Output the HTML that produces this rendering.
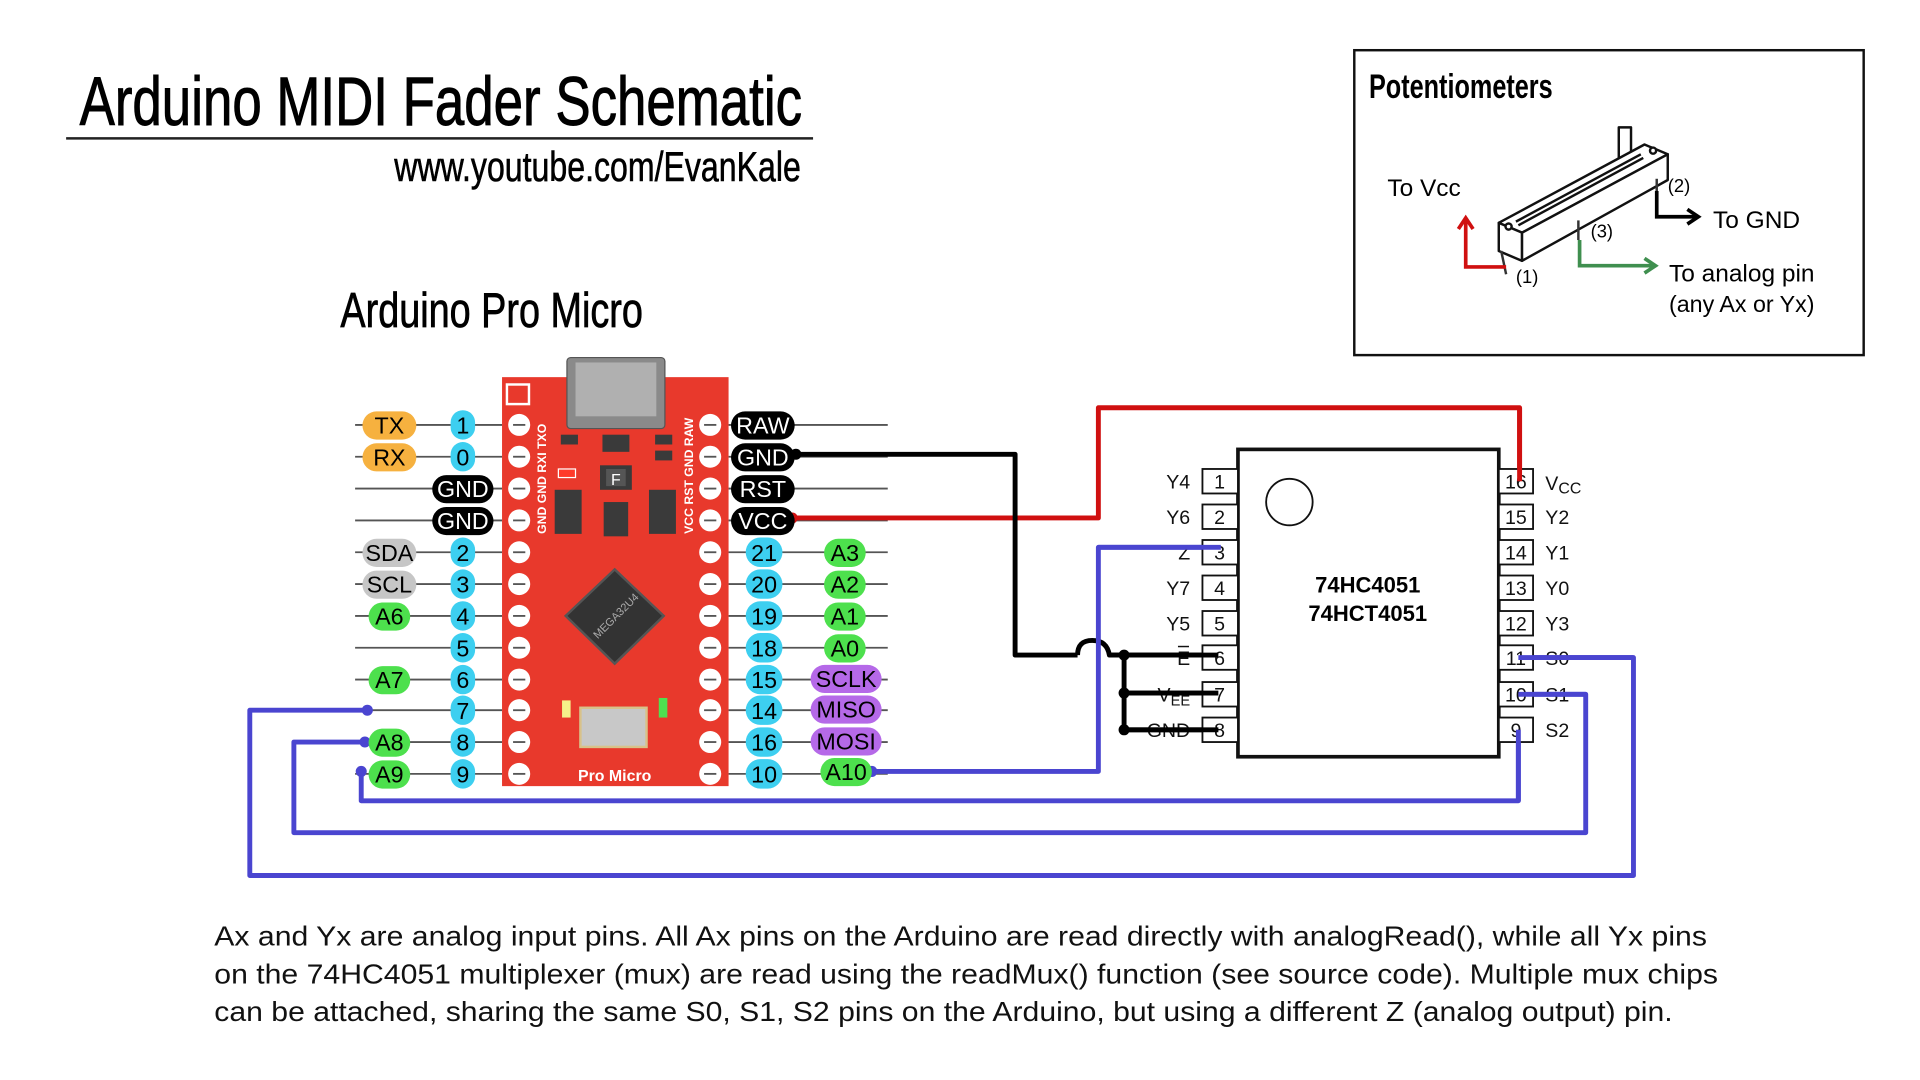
<!DOCTYPE html>
<html><head><meta charset="utf-8"><style>
html,body{margin:0;padding:0;background:#fff;width:1920px;height:1080px;overflow:hidden}
svg{display:block}
.c{font-family:"Liberation Sans Narrow","Liberation Sans",sans-serif}
.a{font-family:"Liberation Sans",Arial,sans-serif}
</style></head><body>
<svg width="1920" height="1080" viewBox="0 0 1568 882" xmlns="http://www.w3.org/2000/svg">
<rect width="1568" height="882" fill="#fff"/>
<!-- Titles -->
<text x="65" y="102" class="c" font-size="56" textLength="590" lengthAdjust="spacingAndGlyphs" fill="#000" stroke="#000" stroke-width="0.8">Arduino MIDI Fader Schematic</text>
<line x1="54" y1="113" x2="664" y2="113" stroke="#222" stroke-width="2"/>
<text x="322" y="148" class="c" font-size="34" textLength="332" lengthAdjust="spacingAndGlyphs" fill="#000" stroke="#000" stroke-width="0.5">www.youtube.com/EvanKale</text>
<text x="278" y="267" class="c" font-size="40" textLength="247" lengthAdjust="spacingAndGlyphs" fill="#000" stroke="#000" stroke-width="0.6">Arduino Pro Micro</text>

<!-- Potentiometer box -->
<rect x="1106" y="41" width="416" height="249" fill="none" stroke="#111" stroke-width="2"/>
<text x="1118" y="80" class="c" font-size="28" font-weight="bold" textLength="150" lengthAdjust="spacingAndGlyphs">Potentiometers</text>
<text x="1133" y="160" class="a" font-size="20">To Vcc</text>
<text x="1399" y="186" class="a" font-size="20">To GND</text>
<text x="1363" y="230" class="a" font-size="20">To analog pin</text>
<text x="1363" y="255" class="a" font-size="19">(any Ax or Yx)</text>
<text x="1238" y="231" class="a" font-size="15">(1)</text>
<text x="1362" y="157" class="a" font-size="15">(2)</text>
<text x="1299" y="194" class="a" font-size="15">(3)</text>
<g stroke="#111" stroke-width="2" fill="#fff" stroke-linejoin="round">
<rect x="1322" y="104" width="10" height="32"/>
<polygon points="1224,182 1343,118 1362,126 1243,190"/>
<polygon points="1224,182 1243,190 1243,213 1224,205"/>
<polygon points="1243,190 1362,126 1362,147 1243,213"/>
<line x1="1238" y1="181" x2="1340" y2="126"/>
<line x1="1240" y1="184" x2="1342" y2="129"/>
<circle cx="1232" cy="185" r="2.5"/>
<circle cx="1350" cy="123" r="2.5"/>
</g>
<line x1="1226" y1="205" x2="1230" y2="224" stroke="#333" stroke-width="2"/>
<line x1="1289" y1="180" x2="1289" y2="196" stroke="#333" stroke-width="2"/>
<line x1="1353" y1="146" x2="1353" y2="158" stroke="#333" stroke-width="2"/>
<g fill="none" stroke-width="3">
<polyline points="1230,218 1197,218 1197,180" stroke="#d01010"/>
<polyline points="1191,187 1197,178 1203,187" stroke="#d01010"/>
<polyline points="1353,156 1353,177 1385,177" stroke="#000"/>
<polyline points="1378,171 1387,177 1378,183" stroke="#000"/>
<polyline points="1290,196 1290,217 1350,217" stroke="#3f8f4f"/>
<polyline points="1343,211 1352,217 1343,223" stroke="#3f8f4f"/>
</g>

<!-- Pin guide lines -->
<g stroke="#555" stroke-width="1.5">
<line x1="290" y1="347" x2="410" y2="347"/><line x1="290" y1="373" x2="410" y2="373"/>
<line x1="290" y1="399" x2="410" y2="399"/><line x1="290" y1="425" x2="410" y2="425"/>
<line x1="290" y1="451" x2="410" y2="451"/><line x1="290" y1="477" x2="410" y2="477"/>
<line x1="290" y1="503" x2="410" y2="503"/><line x1="290" y1="529" x2="410" y2="529"/>
<line x1="290" y1="555" x2="410" y2="555"/><line x1="290" y1="580" x2="410" y2="580"/>
<line x1="290" y1="606" x2="410" y2="606"/><line x1="290" y1="632" x2="410" y2="632"/>
<line x1="595" y1="347" x2="725" y2="347"/><line x1="595" y1="373" x2="725" y2="373"/>
<line x1="595" y1="399" x2="725" y2="399"/><line x1="595" y1="425" x2="725" y2="425"/>
<line x1="595" y1="451" x2="725" y2="451"/><line x1="595" y1="477" x2="725" y2="477"/>
<line x1="595" y1="503" x2="725" y2="503"/><line x1="595" y1="529" x2="725" y2="529"/>
<line x1="595" y1="555" x2="725" y2="555"/><line x1="595" y1="580" x2="725" y2="580"/>
<line x1="595" y1="606" x2="725" y2="606"/><line x1="595" y1="632" x2="725" y2="632"/>
</g>

<!-- Board -->
<rect x="410" y="308" width="185" height="334" fill="#e8392c"/>
<rect x="463" y="292" width="80" height="58" rx="3" fill="#8a8a8a" stroke="#555"/>
<rect x="470" y="296" width="66" height="44" fill="#b0b0b0"/>
<g fill="#fff">
<circle cx="424" cy="347" r="9"/><circle cx="424" cy="373" r="9"/><circle cx="424" cy="399" r="9"/><circle cx="424" cy="425" r="9"/>
<circle cx="424" cy="451" r="9"/><circle cx="424" cy="477" r="9"/><circle cx="424" cy="503" r="9"/><circle cx="424" cy="529" r="9"/>
<circle cx="424" cy="555" r="9"/><circle cx="424" cy="580" r="9"/><circle cx="424" cy="606" r="9"/><circle cx="424" cy="632" r="9"/>
<circle cx="580" cy="347" r="9"/><circle cx="580" cy="373" r="9"/><circle cx="580" cy="399" r="9"/><circle cx="580" cy="425" r="9"/>
<circle cx="580" cy="451" r="9"/><circle cx="580" cy="477" r="9"/><circle cx="580" cy="503" r="9"/><circle cx="580" cy="529" r="9"/>
<circle cx="580" cy="555" r="9"/><circle cx="580" cy="580" r="9"/><circle cx="580" cy="606" r="9"/><circle cx="580" cy="632" r="9"/>
</g>
<g stroke="#555" stroke-width="1.5">
<line x1="419" y1="347" x2="429" y2="347"/><line x1="419" y1="373" x2="429" y2="373"/><line x1="419" y1="399" x2="429" y2="399"/><line x1="419" y1="425" x2="429" y2="425"/>
<line x1="419" y1="451" x2="429" y2="451"/><line x1="419" y1="477" x2="429" y2="477"/><line x1="419" y1="503" x2="429" y2="503"/><line x1="419" y1="529" x2="429" y2="529"/>
<line x1="419" y1="555" x2="429" y2="555"/><line x1="419" y1="580" x2="429" y2="580"/><line x1="419" y1="606" x2="429" y2="606"/><line x1="419" y1="632" x2="429" y2="632"/>
<line x1="575" y1="347" x2="585" y2="347"/><line x1="575" y1="373" x2="585" y2="373"/><line x1="575" y1="399" x2="585" y2="399"/><line x1="575" y1="425" x2="585" y2="425"/>
<line x1="575" y1="451" x2="585" y2="451"/><line x1="575" y1="477" x2="585" y2="477"/><line x1="575" y1="503" x2="585" y2="503"/><line x1="575" y1="529" x2="585" y2="529"/>
<line x1="575" y1="555" x2="585" y2="555"/><line x1="575" y1="580" x2="585" y2="580"/><line x1="575" y1="606" x2="585" y2="606"/><line x1="575" y1="632" x2="585" y2="632"/>
</g>
<rect x="414" y="314" width="18" height="16" fill="none" stroke="#fff" stroke-width="2"/>
<g fill="#3a3a3a">
<rect x="453" y="400" width="22" height="36"/><rect x="530" y="400" width="22" height="36"/>
<rect x="490" y="380" width="26" height="20"/><rect x="492" y="355" width="22" height="14"/>
<rect x="493" y="410" width="20" height="28"/>
<rect x="458" y="355" width="14" height="8"/><rect x="535" y="355" width="14" height="8"/><rect x="535" y="368" width="14" height="8"/>
</g>
<rect x="495" y="383" width="16" height="14" fill="#555"/>
<text x="503" y="396" class="a" font-size="13" fill="#fff" text-anchor="middle">F</text>
<rect x="456" y="383" width="14" height="7" fill="#ff3a2a" stroke="#fff" stroke-width="1"/>
<polygon points="502,465 542,503 502,542 462,503" fill="#333" stroke="#555" stroke-width="2"/>
<text x="503" y="506" class="a" font-size="9" fill="#aaa" text-anchor="middle" transform="rotate(-45 503 503)">MEGA32U4</text>
<rect x="474" y="578" width="54" height="32" fill="#c8c8c8" stroke="#d8c28a" stroke-width="2"/>
<rect x="459" y="572" width="7" height="14" fill="#f5f08a"/>
<rect x="538" y="570" width="7" height="16" fill="#50e050"/>
<text x="502" y="638" class="a" font-size="13" font-weight="bold" fill="#fff" text-anchor="middle">Pro Micro</text>
<g class="a" font-size="10" font-weight="bold" fill="#fff">
<text transform="translate(446 436) rotate(-90)">GND GND RXI TXO</text>
<text transform="translate(566 436) rotate(-90)">VCC RST GND RAW</text>
</g>

<!-- Wires -->
<g fill="none" stroke-width="4" stroke-linejoin="round">
<polyline points="647,423 897,423 897,333 1241,333 1241,393" stroke="#d01010"/>
<polyline points="650,371 829,371 829,535 880,535" stroke="#000"/>
<path d="M880,535 Q880,523 892,523 Q904,523 906,535 L995,535" stroke="#000"/>
<polyline points="918,535 918,596 995,596" stroke="#000"/>
<line x1="918" y1="566" x2="995" y2="566" stroke="#000"/>
<polyline points="997,447 897,447 897,630 712,630" stroke="#4a45d0"/>
<polyline points="1240,596 1240,654 295,654 295,630" stroke="#4a45d0"/>
<polyline points="1240,567 1295,567 1295,680 240,680 240,606 298,606" stroke="#4a45d0"/>
<polyline points="1240,537 1334,537 1334,715 204,715 204,580 300,580" stroke="#4a45d0"/>
</g>
<g fill="#000"><circle cx="650" cy="371" r="4.5"/><circle cx="918" cy="535" r="4.5"/><circle cx="918" cy="566" r="4.5"/><circle cx="918" cy="596" r="4.5"/><circle cx="995" cy="535" r="4.5"/><circle cx="995" cy="566" r="4.5"/><circle cx="995" cy="596" r="4.5"/></g>
<g fill="#d01010"><circle cx="647" cy="423" r="4.5"/><circle cx="1241" cy="393" r="4.5"/></g>
<g fill="#4a45d0"><circle cx="997" cy="447" r="4.5"/><circle cx="712" cy="630" r="4.5"/><circle cx="1240" cy="596" r="4.5"/><circle cx="295" cy="630" r="4.5"/><circle cx="1240" cy="567" r="4.5"/><circle cx="298" cy="606" r="4.5"/><circle cx="1240" cy="537" r="4.5"/><circle cx="300" cy="580" r="4.5"/></g>

<!-- Left pills -->
<g class="c" font-size="19" text-anchor="middle">
<rect x="296" y="336" width="44" height="23" rx="11.5" fill="#f6b13f"/><text x="318" y="354">TX</text>
<rect x="296" y="362" width="44" height="23" rx="11.5" fill="#f6b13f"/><text x="318" y="380">RX</text>
<rect x="296" y="440" width="44" height="23" rx="11.5" fill="#c6c6c6"/><text x="318" y="458">SDA</text>
<rect x="296" y="466" width="44" height="23" rx="11.5" fill="#c6c6c6"/><text x="318" y="484">SCL</text>
<rect x="301" y="492" width="34" height="23" rx="11.5" fill="#4de04d"/><text x="318" y="510">A6</text>
<rect x="301" y="544" width="34" height="23" rx="11.5" fill="#4de04d"/><text x="318" y="562">A7</text>
<rect x="301" y="595" width="34" height="23" rx="11.5" fill="#4de04d"/><text x="318" y="613">A8</text>
<rect x="301" y="621" width="34" height="23" rx="11.5" fill="#4de04d"/><text x="318" y="639">A9</text>
<rect x="353" y="388" width="50" height="23" rx="11.5" fill="#000"/><text x="378" y="406" fill="#fff">GND</text>
<rect x="353" y="414" width="50" height="23" rx="11.5" fill="#000"/><text x="378" y="432" fill="#fff">GND</text>
<g fill="#3dcff0">
<rect x="368" y="335" width="20" height="24" rx="10"/><rect x="368" y="361" width="20" height="24" rx="10"/>
<rect x="368" y="439" width="20" height="24" rx="10"/><rect x="368" y="465" width="20" height="24" rx="10"/>
<rect x="368" y="491" width="20" height="24" rx="10"/><rect x="368" y="517" width="20" height="24" rx="10"/>
<rect x="368" y="543" width="20" height="24" rx="10"/><rect x="368" y="568" width="20" height="24" rx="10"/>
<rect x="368" y="594" width="20" height="24" rx="10"/><rect x="368" y="620" width="20" height="24" rx="10"/>
</g>
<text x="378" y="354">1</text><text x="378" y="380">0</text><text x="378" y="458">2</text><text x="378" y="484">3</text><text x="378" y="510">4</text>
<text x="378" y="536">5</text><text x="378" y="562">6</text><text x="378" y="587">7</text><text x="378" y="613">8</text><text x="378" y="639">9</text>
<rect x="597" y="336" width="52" height="23" rx="11.5" fill="#000"/><text x="623" y="354" fill="#fff">RAW</text>
<rect x="597" y="362" width="52" height="23" rx="11.5" fill="#000"/><text x="623" y="380" fill="#fff">GND</text>
<rect x="597" y="388" width="52" height="23" rx="11.5" fill="#000"/><text x="623" y="406" fill="#fff">RST</text>
<rect x="597" y="414" width="52" height="23" rx="11.5" fill="#000"/><text x="623" y="432" fill="#fff">VCC</text>
<g fill="#3dcff0">
<rect x="609" y="439" width="30" height="24" rx="12"/><rect x="609" y="465" width="30" height="24" rx="12"/>
<rect x="609" y="491" width="30" height="24" rx="12"/><rect x="609" y="517" width="30" height="24" rx="12"/>
<rect x="609" y="543" width="30" height="24" rx="12"/><rect x="609" y="568" width="30" height="24" rx="12"/>
<rect x="609" y="594" width="30" height="24" rx="12"/><rect x="609" y="620" width="30" height="24" rx="12"/>
</g>
<text x="624" y="458">21</text><text x="624" y="484">20</text><text x="624" y="510">19</text><text x="624" y="536">18</text>
<text x="624" y="562">15</text><text x="624" y="587">14</text><text x="624" y="613">16</text><text x="624" y="639">10</text>
<g fill="#4de04d">
<rect x="673" y="440" width="34" height="23" rx="11.5"/><rect x="673" y="466" width="34" height="23" rx="11.5"/>
<rect x="673" y="492" width="34" height="23" rx="11.5"/><rect x="673" y="518" width="34" height="23" rx="11.5"/>
<rect x="670" y="619" width="42" height="23" rx="11.5"/>
</g>
<g fill="#b569e8">
<rect x="662" y="543" width="58" height="23" rx="11.5"/><rect x="662" y="568" width="58" height="23" rx="11.5"/><rect x="662" y="594" width="58" height="23" rx="11.5"/>
</g>
<text x="690" y="458">A3</text><text x="690" y="484">A2</text><text x="690" y="510">A1</text><text x="690" y="536">A0</text>
<text x="691" y="561">SCLK</text><text x="691" y="586">MISO</text><text x="691" y="612">MOSI</text><text x="691" y="637">A10</text>
</g>

<!-- Mux chip -->
<rect x="1011" y="367" width="213" height="251" fill="#fff" stroke="#111" stroke-width="3"/>
<circle cx="1053" cy="410" r="19" fill="none" stroke="#111" stroke-width="1.5"/>
<text x="1117" y="484" class="a" font-size="18" font-weight="bold" text-anchor="middle">74HC4051</text>
<text x="1117" y="507" class="a" font-size="18" font-weight="bold" text-anchor="middle">74HCT4051</text>
<g fill="#fff" stroke="#111" stroke-width="1.5">
<rect x="982" y="383" width="29" height="20"/><rect x="982" y="412" width="29" height="20"/><rect x="982" y="441" width="29" height="20"/><rect x="982" y="470" width="29" height="20"/>
<rect x="982" y="499" width="29" height="20"/><rect x="982" y="527" width="29" height="20"/><rect x="982" y="557" width="29" height="20"/><rect x="982" y="586" width="29" height="20"/>
<rect x="1224" y="383" width="28" height="20"/><rect x="1224" y="412" width="28" height="20"/><rect x="1224" y="441" width="28" height="20"/><rect x="1224" y="470" width="28" height="20"/>
<rect x="1224" y="499" width="28" height="20"/><rect x="1224" y="527" width="28" height="20"/><rect x="1224" y="557" width="28" height="20"/><rect x="1224" y="586" width="28" height="20"/>
</g>
<g class="a" font-size="16" fill="#111" text-anchor="middle">
<text x="996" y="399">1</text><text x="996" y="428">2</text><text x="996" y="457">3</text><text x="996" y="486">4</text>
<text x="996" y="515">5</text><text x="996" y="543">6</text><text x="996" y="573">7</text><text x="996" y="602">8</text>
<text x="1238" y="399">16</text><text x="1238" y="428">15</text><text x="1238" y="457">14</text><text x="1238" y="486">13</text>
<text x="1238" y="515">12</text><text x="1238" y="543">11</text><text x="1238" y="573">10</text><text x="1238" y="602">9</text>
</g>
<g class="a" font-size="16" fill="#111">
<g text-anchor="end">
<text x="972" y="399">Y4</text><text x="972" y="428">Y6</text><text x="972" y="457">Z</text><text x="972" y="486">Y7</text>
<text x="972" y="515">Y5</text><text x="972" y="543">E</text><text x="972" y="573">V<tspan font-size="12" dy="3">EE</tspan></text><text x="972" y="602">GND</text>
</g>
<line x1="962" y1="528" x2="971" y2="528" stroke="#111" stroke-width="1.2"/>
<text x="1262" y="400">V<tspan font-size="13" dy="3">CC</tspan></text><text x="1262" y="428">Y2</text><text x="1262" y="457">Y1</text><text x="1262" y="486">Y0</text>
<text x="1262" y="515">Y3</text><text x="1262" y="543">S0</text><text x="1262" y="573">S1</text><text x="1262" y="602">S2</text>
</g>
<g fill="none" stroke-width="4">
<line x1="918" y1="566" x2="995" y2="566" stroke="#000"/><line x1="918" y1="596" x2="995" y2="596" stroke="#000"/><line x1="906" y1="535" x2="995" y2="535" stroke="#000"/>
<line x1="997" y1="447" x2="897" y2="447" stroke="#4a45d0"/>
<line x1="1240" y1="537" x2="1334" y2="537" stroke="#4a45d0"/><line x1="1240" y1="567" x2="1295" y2="567" stroke="#4a45d0"/>
<line x1="1241" y1="333" x2="1241" y2="393" stroke="#d01010"/><line x1="1240" y1="596" x2="1240" y2="654" stroke="#4a45d0"/>
</g>

<!-- Bottom text -->
<g class="a" font-size="23" fill="#111">
<text x="175" y="772" textLength="1219" lengthAdjust="spacingAndGlyphs">Ax and Yx are analog input pins. All Ax pins on the Arduino are read directly with analogRead(), while all Yx pins</text>
<text x="175" y="803" textLength="1228" lengthAdjust="spacingAndGlyphs">on the 74HC4051 multiplexer (mux) are read using the readMux() function (see source code). Multiple mux chips</text>
<text x="175" y="834" textLength="1191" lengthAdjust="spacingAndGlyphs">can be attached, sharing the same S0, S1, S2 pins on the Arduino, but using a different Z (analog output) pin.</text>
</g>
</svg>
</body></html>
